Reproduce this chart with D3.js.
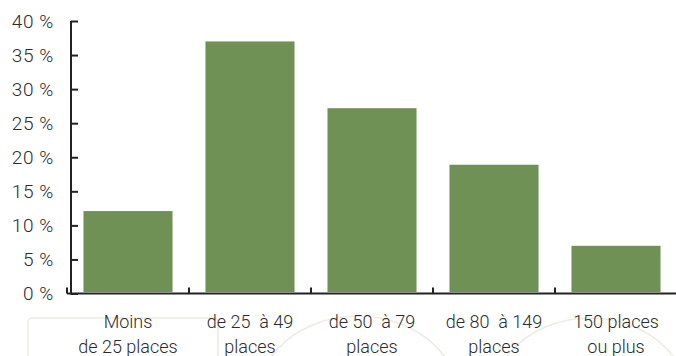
<!DOCTYPE html>
<html>
<head>
<meta charset="utf-8">
<script src="https://cdn.jsdelivr.net/npm/d3@7"></script>
<style>
  html, body { margin: 0; padding: 0; background: #fff; }
  svg { display: block; }
  text { font-family: Roboto, "DejaVu Sans", sans-serif; font-weight: 300; fill: #2b2b2b; white-space: pre; }
</style>
</head>
<body>
<svg id="chart" width="676" height="356"></svg>
<script>
const categories = ["Moins|de 25 places", "de 25  à 49|places", "de 50  à 79|places", "de 80  à 149|places", "150 places|ou plus"];
const values = [12.1, 37.0, 27.2, 18.9, 7.0];
const yTicks = [0, 5, 10, 15, 20, 25, 30, 35, 40];
const yTickLabels = ["0 %", "5 %", "10 %", "15 %", "20 %", "25 %", "30 %", "35 %", "40 %"];

const svg = d3.select("#chart");

// faint background decoration
const deco = svg.append("g").attr("fill", "none").attr("stroke", "#ecece4").attr("stroke-width", 1.5);
deco.append("rect").attr("x", 28).attr("y", 318).attr("width", 190).attr("height", 60).attr("rx", 4);
deco.append("ellipse").attr("cx", 358).attr("cy", 402).attr("rx", 102).attr("ry", 86);
deco.append("ellipse").attr("cx", 590).attr("cy", 404).attr("rx", 100).attr("ry", 86);

const x = d3.scaleBand().domain(categories).range([67, 677]).paddingInner(0.27).paddingOuter(0.135);
const y = d3.scaleLinear().domain([0, 40]).range([293.5, 21]);

// bars
svg.append("g").selectAll("rect").data(values).join("rect")
  .attr("x", (d, i) => x(categories[i]))
  .attr("width", x.bandwidth())
  .attr("y", d => y(d))
  .attr("height", d => y(0) - 1.5 - y(d))
  .attr("fill", "#6f9155");

// y axis
const yAxis = d3.axisRight(y).tickValues(yTicks).tickSize(7).tickFormat("");
const yg = svg.append("g").attr("transform", "translate(71,0)").call(yAxis);
yg.select(".domain").attr("stroke", "#222").attr("stroke-width", 2).attr("d", `M0,${y(40)}H0V${y(0) + 1}`);
yg.selectAll(".tick line").attr("stroke", "#222").attr("stroke-width", 2);
svg.append("g").selectAll("text").data(yTicks).join("text")
  .attr("x", 54).attr("y", d => y(d))
  .attr("text-anchor", "end").attr("dominant-baseline", "central")
  .attr("font-size", 19).attr("letter-spacing", 0.6)
  .text((d, i) => yTickLabels[i]);

// x axis
const step = x.step();
const bounds = categories.map(c => x(c) - x.paddingInner() * step / 2).concat([677]);
const xg = svg.append("g");
xg.append("line").attr("x1", 67).attr("x2", 676).attr("y1", y(0)).attr("y2", y(0))
  .attr("stroke", "#222").attr("stroke-width", 2);
xg.selectAll("line.tk").data(bounds).join("line").attr("class", "tk")
  .attr("x1", d => d).attr("x2", d => d).attr("y1", y(0)).attr("y2", y(0) - 6)
  .attr("stroke", "#222").attr("stroke-width", 2);

const labels = svg.append("g").selectAll("text").data(categories).join("text")
  .attr("text-anchor", "middle").attr("font-size", 18);
labels.each(function(c) {
  const t = d3.select(this);
  const cx = x(c) + x.bandwidth() / 2;
  c.split("|").forEach((line, j) => {
    t.append("tspan").attr("x", cx).attr("y", 327.5 + j * 25).text(line);
  });
});
</script>
</body>
</html>
